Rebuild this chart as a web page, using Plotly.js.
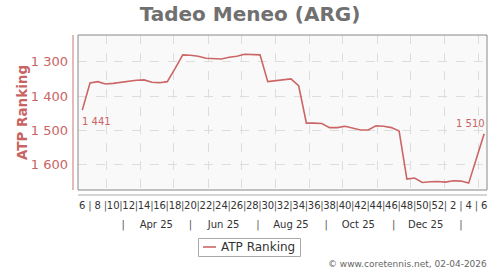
<!DOCTYPE html>
<html>
<head>
<meta charset="utf-8">
<script src="https://cdn.plot.ly/plotly-3.0.1.min.js"></script>
<style>html,body{margin:0;padding:0;background:#fff;}#chart{width:500px;height:270px;}</style>
</head>
<body>
<div id="chart"></div>
<script>
// ---- data ----
const weekDates = ['2025-02-07','2025-02-14','2025-02-21','2025-02-28','2025-03-07','2025-03-14','2025-03-21','2025-03-28',
  '2025-04-04','2025-04-11','2025-04-18','2025-04-25','2025-05-02','2025-05-09','2025-05-16','2025-05-23','2025-05-30',
  '2025-06-06','2025-06-13','2025-06-20','2025-06-27','2025-07-04','2025-07-11','2025-07-18','2025-07-25',
  '2025-08-01','2025-08-08','2025-08-15','2025-08-22','2025-08-29','2025-09-05','2025-09-12','2025-09-19','2025-09-26',
  '2025-10-03','2025-10-10','2025-10-17','2025-10-24','2025-10-31','2025-11-07','2025-11-14','2025-11-21','2025-11-28',
  '2025-12-05','2025-12-12','2025-12-19','2025-12-26','2026-01-02','2026-01-09','2026-01-16','2026-01-23','2026-01-30','2026-02-06'];
const weekNumbers = [6,7,8,9,10,11,12,13,14,15,16,17,18,19,20,21,22,23,24,25,26,27,28,29,30,31,32,33,34,35,36,37,38,39,40,
  41,42,43,44,45,46,47,48,49,50,51,52,1,2,3,4,5,6];
const atpRanking = [1441,1362,1358,1365,1363,1360,1356,1354,1353,1360,1361,1358,1320,1280,1281,1284,1290,1291,1292,1287,
  1284,1278,1279,1280,1358,1355,1353,1350,1370,1479,1479,1480,1492,1492,1488,1494,1499,1499,1487,1488,1492,1502,
  1642,1639,1652,1650,1649,1651,1647,1648,1654,1582,1510];
const monthStarts = ['2025-03-01','2025-04-01','2025-05-01','2025-06-01','2025-07-01','2025-08-01','2025-09-01',
  '2025-10-01','2025-11-01','2025-12-01','2026-01-01','2026-02-01'];
const monthLabelDates = ['2025-04-15','2025-06-15','2025-08-15','2025-10-15','2025-12-15'];
const monthLabels = ['Apr 25','Jun 25','Aug 25','Oct 25','Dec 25'];
const monthSepDates = ['2025-03-16','2025-05-16','2025-07-16','2025-09-16','2025-11-16','2026-01-16'];
const yTicks = [1300,1400,1500,1600];
const seriesName = 'ATP Ranking';
const playerTitle = 'Tadeo Meneo (ARG)';
const footer = '© www.coretennis.net, 02-04-2026';

// ---- helpers ----
const fmt = v => String(v).replace(/\B(?=(\d{3})+(?!\d))/g, ' ');
const L = 78, R = 487, T = 35, B = 190, W = 500, H = 270;
const px = x => (x - L) / (R - L);
const py = y => (B - y) / (B - T);
const xRange = ['2025-02-03 03:00', '2026-02-08 14:00'];
const FONT = 'DejaVu Sans, sans-serif';
const red = '#c86464';

const evenDates = weekDates.filter((d, i) => i % 2 === 0);
const evenLabels = weekNumbers.filter((d, i) => i % 2 === 0).map(String);
const oddDates = weekDates.filter((d, i) => i % 2 === 1);

const trace = {
  x: weekDates, y: atpRanking, type: 'scatter', mode: 'lines', name: seriesName,
  line: {color: '#cc6666', width: 1.6}, showlegend: false, hoverinfo: 'x+y'
};

const baseX = {type: 'date', range: xRange, showline: false, zeroline: false, fixedrange: true};
const layout = {
  width: W, height: H,
  margin: {l: L, r: W - R, t: T, b: H - B, pad: 0},
  paper_bgcolor: '#ffffff', plot_bgcolor: '#f9f9f9',
  font: {family: FONT, color: '#333'},
  title: {text: playerTitle, font: {family: FONT, size: 20, weight: 'bold', color: '#707070'},
    xref: 'container', x: 0.5, xanchor: 'center', yref: 'container', y: 1 - 14 / H, yanchor: 'middle'},
  xaxis: Object.assign({}, baseX, {tickvals: monthStarts, showticklabels: false, ticks: '',
    showgrid: true, gridcolor: '#dddddd', griddash: 'dash', gridwidth: 1}),
  xaxis2: Object.assign({}, baseX, {overlaying: 'x', anchor: 'y', side: 'bottom', showgrid: false,
    tickmode: 'array', tickvals: evenDates, ticktext: evenLabels, ticks: '', ticklabelstandoff: 8,
    tickfont: {size: 10, color: '#333', family: FONT}}),
  xaxis3: Object.assign({}, baseX, {overlaying: 'x', anchor: 'y', side: 'bottom', showgrid: false,
    tickmode: 'array', tickvals: oddDates, ticktext: oddDates.map(() => '|'), ticks: '', ticklabelstandoff: 8,
    tickfont: {size: 10, color: '#555', family: FONT}}),
  xaxis4: Object.assign({}, baseX, {overlaying: 'x', anchor: 'y', side: 'bottom', showgrid: false,
    tickmode: 'array', tickvals: monthLabelDates, ticktext: monthLabels, ticks: '', ticklabelstandoff: 27,
    tickfont: {size: 10, color: '#333', family: FONT}}),
  xaxis5: Object.assign({}, baseX, {overlaying: 'x', anchor: 'y', side: 'bottom', showgrid: false,
    tickmode: 'array', tickvals: monthSepDates, ticktext: monthSepDates.map(() => '|'), ticks: '', ticklabelstandoff: 27,
    tickfont: {size: 10, color: '#555', family: FONT}}),
  yaxis: {range: [1674, 1222], tickvals: yTicks, ticktext: yTicks.map(fmt), ticks: '', ticklabelstandoff: 9,
    showgrid: true, gridcolor: '#dddddd', griddash: 'dash', zeroline: false, showline: false, fixedrange: true,
    tickfont: {size: 13, color: red, family: FONT},
    title: {text: seriesName, font: {size: 13.5, weight: 'bold', color: red, family: FONT}, standoff: 0}},
  shapes: [
    {type: 'rect', xref: 'paper', yref: 'paper', x0: 0, x1: 1, y0: 0, y1: 1, line: {color: '#888', width: 1}},
    {type: 'line', xref: 'paper', yref: 'paper', x0: px(73), x1: px(73), y0: 0, y1: 1, line: {color: '#dba5a5', width: 1.5}},
    {type: 'line', xref: 'paper', yref: 'paper', x0: 0, x1: 1, y0: py(195), y1: py(195), line: {color: '#aaa', width: 1}},
    {type: 'rect', xref: 'paper', yref: 'paper', x0: px(198.5), x1: px(300.5), y0: py(256.5), y1: py(238.5),
      line: {color: '#aaa', width: 1}, fillcolor: '#ffffff'},
    {type: 'line', xref: 'paper', yref: 'paper', x0: px(203), x1: px(216), y0: py(247), y1: py(247),
      line: {color: '#cc6666', width: 1.6}}
  ],
  annotations: [
    {xref: 'x', yref: 'y', x: weekDates[0], y: atpRanking[0], text: fmt(atpRanking[0]), showarrow: false,
      xanchor: 'left', yanchor: 'top', yshift: -4, xshift: -2, font: {size: 10, color: red, family: FONT}},
    {xref: 'x', yref: 'y', x: weekDates[weekDates.length - 1], y: atpRanking[atpRanking.length - 1],
      text: fmt(atpRanking[atpRanking.length - 1]), showarrow: false,
      xanchor: 'right', yanchor: 'bottom', yshift: 3, xshift: 3, font: {size: 10, color: red, family: FONT}},
    {xref: 'paper', yref: 'paper', x: px(219), y: py(247), text: seriesName, showarrow: false,
      xanchor: 'left', yanchor: 'middle', font: {size: 12, color: '#333', family: FONT}},
    {xref: 'paper', yref: 'paper', x: px(489), y: py(264), text: footer, showarrow: false,
      xanchor: 'right', yanchor: 'middle', font: {size: 9, color: '#666', family: FONT}}
  ]
};

const dummy = ax => ({x: [weekDates[0]], y: [atpRanking[0]], xaxis: ax, yaxis: 'y', type: 'scatter', mode: 'none',
  showlegend: false, hoverinfo: 'skip'});
Plotly.newPlot('chart', [trace, dummy('x2'), dummy('x3'), dummy('x4'), dummy('x5')], layout,
  {displayModeBar: false, staticPlot: true});
</script>
</body>
</html>
